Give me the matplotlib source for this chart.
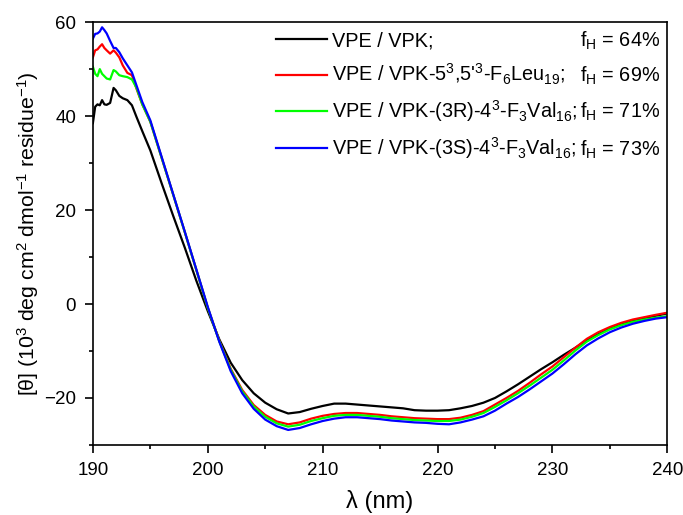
import matplotlib
matplotlib.use("Agg")
import matplotlib.pyplot as plt
from matplotlib.ticker import MultipleLocator

plt.rcParams['font.family'] = ['Liberation Sans', 'DejaVu Sans']
plt.rcParams['mathtext.fontset'] = 'custom'
plt.rcParams['mathtext.rm'] = 'Liberation Sans'
plt.rcParams['mathtext.it'] = 'Liberation Sans'
plt.rcParams['mathtext.default'] = 'regular'

# wavelength grid (nm), finer where the spectra are noisy
wl = [190.0, 190.2, 190.4, 190.6, 190.8, 191.0, 191.2, 191.5, 191.8, 192.0,
      192.3, 192.6, 193.0, 193.4, 193.8, 194.3] + list(range(195, 241))

vpk = [38.5, 42.0, 42.5, 42.3, 43.4, 42.5, 42.4, 42.8, 46.0, 45.5, 44.3, 43.8, 43.4, 42.3, 39.8, 36.8,
       32.7, 25.6, 18.7, 12.0, 5.0, -1.5, -7.5, -12.5, -16.2, -19.0, -21.0, -22.4, -23.3,
       -23.0, -22.3, -21.7, -21.2, -21.2, -21.4, -21.6, -21.8, -22.0, -22.2, -22.6, -22.7, -22.7, -22.6, -22.2, -21.7,
       -21.0, -20.0, -18.6, -17.1, -15.5, -13.9, -12.4, -10.8, -9.3, -7.7, -6.4, -5.2, -4.3, -3.6, -3.0, -2.5, -2.0]
leu = [52.5, 54.0, 54.2, 54.8, 55.3, 54.5, 54.0, 53.3, 54.0, 53.5, 52.5, 50.8, 49.2, 48.7, 45.8, 42.5,
       38.8, 31.0, 23.2, 15.3, 7.3, -0.8, -7.8, -13.8, -18.3, -21.5, -23.6, -25.0, -25.6,
       -25.2, -24.4, -23.8, -23.4, -23.2, -23.2, -23.4, -23.6, -23.9, -24.1, -24.3, -24.4, -24.5, -24.5, -24.2, -23.6,
       -22.8, -21.4, -20.0, -18.5, -16.8, -15.0, -13.3, -11.3, -9.3, -7.4, -6.0, -4.9, -4.0, -3.3, -2.8, -2.3, -1.85]
val3r = [50.5, 49.0, 48.5, 50.0, 49.0, 48.5, 48.0, 47.8, 49.8, 49.5, 48.7, 48.5, 48.3, 47.8, 46.0, 42.5,
         38.8, 31.0, 23.2, 15.3, 7.3, -0.8, -7.9, -14.0, -18.6, -21.8, -24.0, -25.4, -26.1,
         -25.7, -24.9, -24.3, -23.8, -23.6, -23.6, -23.8, -24.0, -24.3, -24.5, -24.7, -24.8, -24.9, -24.9, -24.6, -24.0,
         -23.2, -21.9, -20.5, -19.0, -17.4, -15.7, -14.0, -12.0, -9.9, -8.0, -6.6, -5.4, -4.5, -3.8, -3.3, -2.9, -2.6]
val3s = [56.5, 57.5, 57.6, 58.0, 58.9, 58.3, 57.6, 56.0, 54.5, 54.5, 53.6, 52.3, 50.8, 49.3, 46.5, 43.0,
         39.1, 31.2, 23.3, 15.4, 7.4, -0.6, -8.0, -14.3, -19.0, -22.3, -24.6, -26.0, -26.8,
         -26.4, -25.6, -24.9, -24.4, -24.1, -24.1, -24.3, -24.5, -24.8, -25.0, -25.2, -25.3, -25.5, -25.6, -25.2, -24.6,
         -23.9, -22.7, -21.2, -19.8, -18.2, -16.5, -14.8, -12.8, -10.7, -8.8, -7.3, -6.0, -5.0, -4.2, -3.6, -3.1, -2.8]

series = [vpk, leu, val3r, val3s]
colors = ['#000000', '#ff0000', '#00ff00', '#0000ff']
labels = ["VPE / VPK;",
          "VPE / VPK-5$^3$,5'$^3$-F$_6$Leu$_{19}$;",
          "VPE / VPK-(3R)-4$^3$-F$_3$Val$_{16}$;",
          "VPE / VPK-(3S)-4$^3$-F$_3$Val$_{16}$;"]
fh = [64, 69, 71, 73]

fig = plt.figure(figsize=(6.83, 5.15), dpi=100)
ax = fig.add_axes([0.136, 0.136, 0.841, 0.821])

for y, c, lab in zip(series, colors, labels):
    ax.plot(wl, y, color=c, lw=1.6, label=lab)

ax.set_xlim(190, 240)
ax.set_ylim(-30, 60)
ax.xaxis.set_major_locator(MultipleLocator(10))
ax.xaxis.set_minor_locator(MultipleLocator(5))
ax.yaxis.set_major_locator(MultipleLocator(20))
ax.yaxis.set_minor_locator(MultipleLocator(10))
ax.tick_params(which='both', direction='out', top=False, right=False, width=1.2,
               labelsize=13.5, pad=6)
ax.tick_params(which='major', length=6)
ax.tick_params(which='minor', length=3)
for s in ax.spines.values():
    s.set_linewidth(1.2)

ax.set_xlabel('λ (nm)', fontsize=17, labelpad=8)
ax.set_ylabel('[θ] (10$^3$ deg cm$^2$ dmol$^{-1}$ residue$^{-1}$)', fontsize=15.3, labelpad=2)

leg = ax.legend(loc='upper left', bbox_to_anchor=(0.319, 0.978), frameon=False,
                fontsize=14.3, handlelength=2.55, handletextpad=0.25,
                labelspacing=0.57, borderaxespad=0, borderpad=0)

fig.canvas.draw()
inv = ax.transAxes.inverted()
for t, v in zip(leg.get_texts(), fh):
    xd, yd = t.get_transform().transform(t.get_position())
    ya = inv.transform((xd, yd))[1]
    ax.text(0.988, ya, 'f$_H$ = %d%%' % v, transform=ax.transAxes,
            ha='right', va='baseline', fontsize=14.3)

fig.savefig('out.png', dpi=100)
